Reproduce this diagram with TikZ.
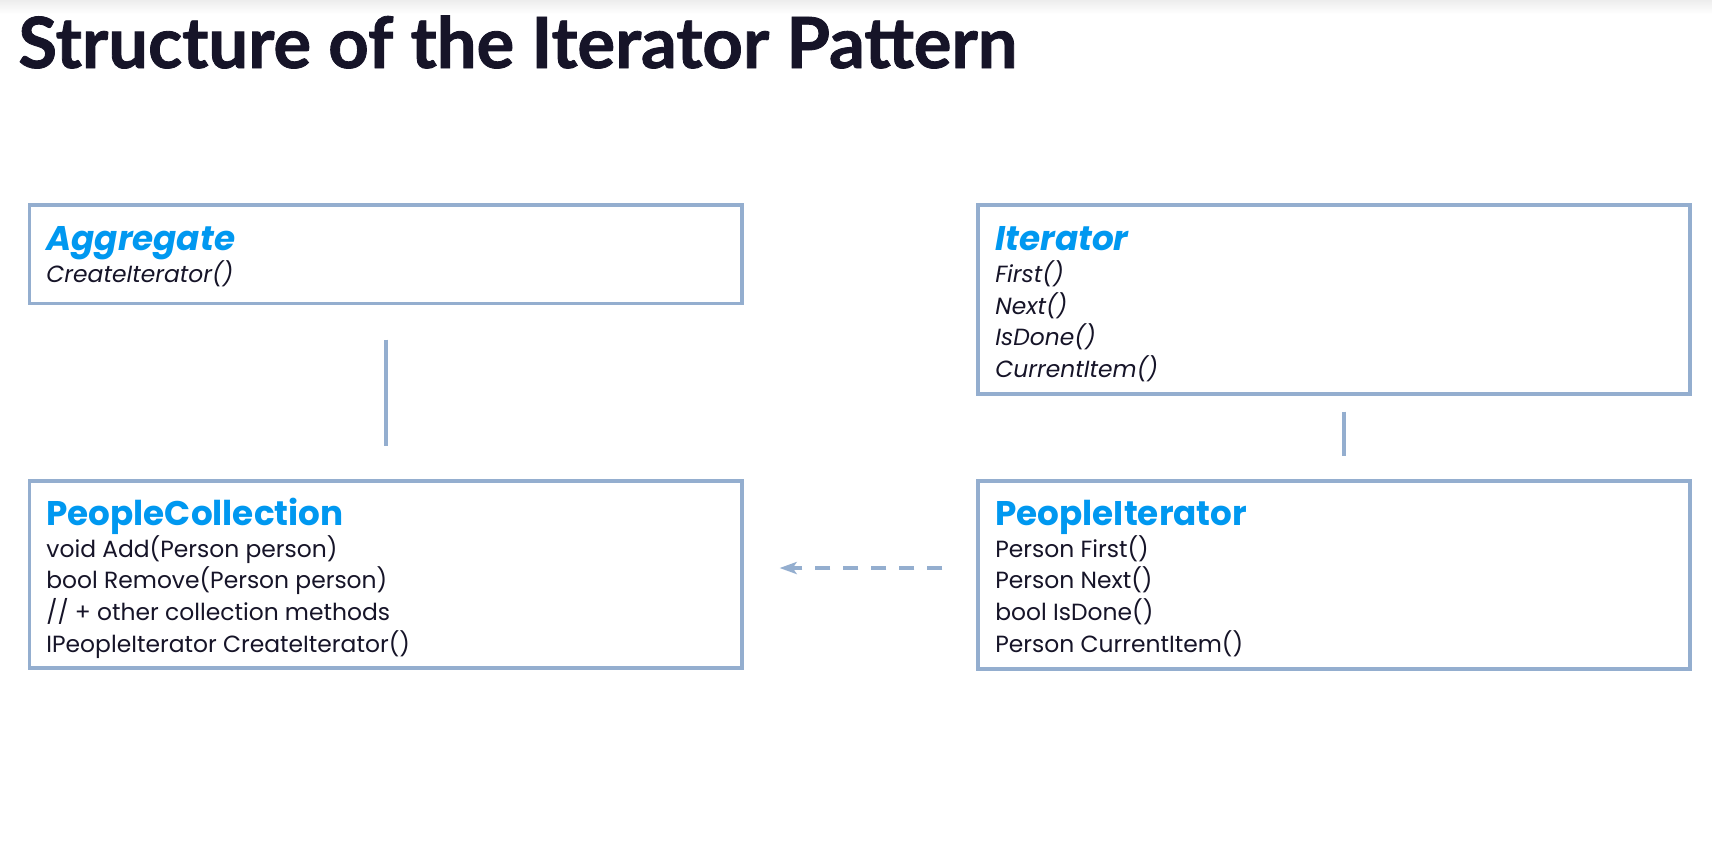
\documentclass[tikz,border=0pt]{standalone}
\usepackage{fontspec}
\setmainfont{Poppins}
\newfontfamily\titlefont{Lato}[FakeBold=1.2]
\usetikzlibrary{arrows.meta}
\definecolor{bord}{RGB}{148,174,207}
\definecolor{hblue}{RGB}{0,152,240}
\definecolor{ink}{RGB}{22,20,40}
\begin{document}
\begin{tikzpicture}[x=0.5pt,y=-0.5pt,
  box/.style={draw=bord, line width=1.65pt, inner sep=0pt, rectangle},
  hd/.style={anchor=base west, inner sep=0pt, text=hblue, font=\fontsize{17.1}{20}\selectfont\bfseries},
  hdi/.style={hd, font=\fontsize{17.1}{20}\selectfont\bfseries\itshape},
  ln/.style={anchor=base west, inner sep=0pt, text=ink, font=\fontsize{11.7}{13}\selectfont},
  lni/.style={ln, font=\fontsize{11.7}{13}\selectfont\itshape},
  link/.style={draw=bord, line width=1.8pt},
  dep/.style={draw=bord, line width=1.65pt, dash pattern=on 7.5pt off 6.5pt, -{Stealth[length=8.5pt,width=6pt,inset=2pt]}}]
\useasboundingbox (0,0) rectangle (1712,848);
\fill[white] (0,0) rectangle (1712,848);
\shade[top color=black!7, bottom color=white] (0,0) rectangle (1712,14);
% title
\node[anchor=base west, inner sep=0pt, text=ink, font=\fontsize{35.3}{40}\selectfont\titlefont\bfseries] (title) at (18,68) {Structure of the Iterator Pattern};
% boxes
\node[box, minimum width=356.25pt, minimum height=49.25pt] (agg) at (385.75,254.25) {};
\node[box, minimum width=356pt, minimum height=94.5pt] (it) at (1334,299.5) {};
\node[box, minimum width=356.25pt, minimum height=93.5pt] (pc) at (385.75,574.5) {};
\node[box, minimum width=356pt, minimum height=94pt] (pi) at (1334,575) {};
% Aggregate
\node[hdi] (aggT) at (46,250) {Aggregate};
\node[lni] (agg1) at (46,282) {CreateIterator()};
% Iterator
\node[hdi] (itT) at (995,250) {Iterator};
\node[lni] (it1) at (995,282) {First()};
\node[lni] (it2) at (995,314) {Next()};
\node[lni] (it3) at (995,345) {IsDone()};
\node[lni] (it4) at (995,377) {CurrentItem()};
% PeopleCollection
\node[hd] (pcT) at (46,525) {PeopleCollection};
\node[ln] (pc1) at (46,557) {void Add(Person person)};
\node[ln] (pc2) at (46,588) {bool Remove(Person person)};
\node[ln] (pc3) at (46,620) {// + other collection methods};
\node[ln] (pc4) at (46,652) {IPeopleIterator CreateIterator()};
% PeopleIterator
\node[hd] (piT) at (995,525) {PeopleIterator};
\node[ln] (pi1) at (995,557) {Person First()};
\node[ln] (pi2) at (995,588) {Person Next()};
\node[ln] (pi3) at (995,620) {bool IsDone()};
\node[ln] (pi4) at (995,652) {Person CurrentItem()};
% connectors
\draw[link] ([yshift=-17.25pt]agg.south) -- ([yshift=16.5pt]pc.north);
\draw[link] ([xshift=5pt,yshift=-8pt]it.south) -- ([xshift=5pt,yshift=11.5pt]pi.north);
\draw[dep] ([xshift=-17pt,yshift=3.5pt]pi.west) -- ([xshift=18pt,yshift=3.25pt]pc.east);
\end{tikzpicture}
\end{document}
